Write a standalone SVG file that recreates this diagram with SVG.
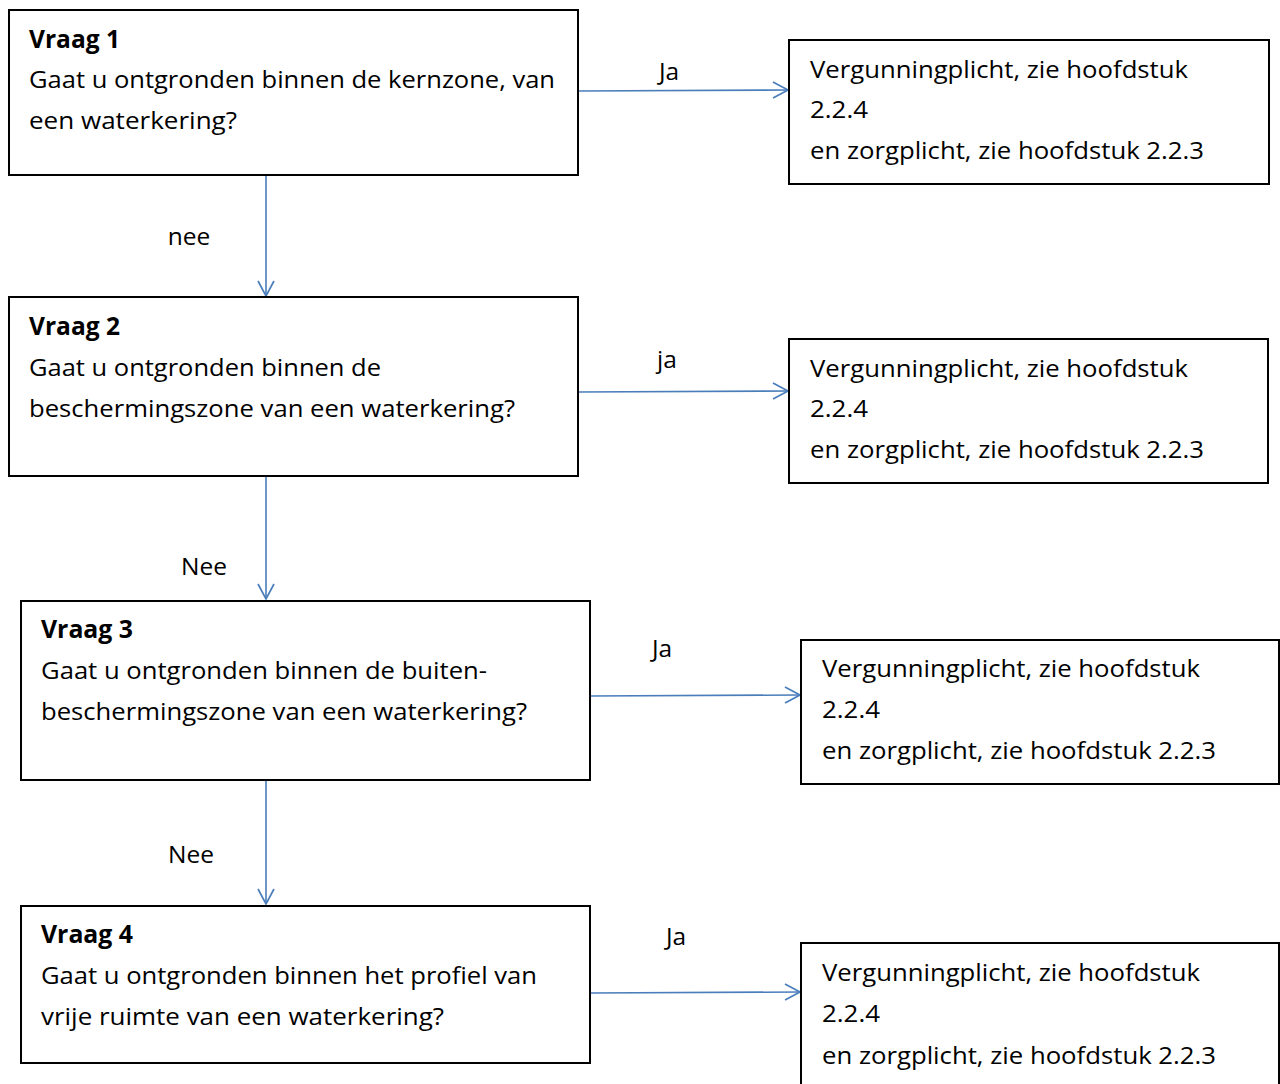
<svg xmlns="http://www.w3.org/2000/svg" width="1280" height="1084" viewBox="0 0 1280 1084">
<defs>
<style>
.box{fill:#fff;stroke:#000;stroke-width:2}
text{font-family:"Open Sans","Liberation Sans",sans-serif;font-size:24.5px;fill:#000}
.b{font-weight:bold}
.lbl{text-anchor:middle}
.con{stroke:#4A7EBB;stroke-width:1.6;fill:none}
</style>
<marker id="ah" markerWidth="20" markerHeight="20" refX="16" refY="9" orient="auto" markerUnits="userSpaceOnUse">
<path d="M1,1 L16,9 L1,17" fill="none" stroke="#4A7EBB" stroke-width="1.7"/>
</marker>
</defs>
<rect width="1280" height="1084" fill="#fff"/>
<g id="connectors">
<line class="con" x1="578" y1="91" x2="788" y2="90" marker-end="url(#ah)"/>
<line class="con" x1="578" y1="392" x2="788" y2="391" marker-end="url(#ah)"/>
<line class="con" x1="590" y1="696" x2="800" y2="695" marker-end="url(#ah)"/>
<line class="con" x1="590" y1="993" x2="800" y2="992" marker-end="url(#ah)"/>
<line class="con" x1="266" y1="175" x2="266" y2="296" marker-end="url(#ah)"/>
<line class="con" x1="266" y1="477" x2="266" y2="599" marker-end="url(#ah)"/>
<line class="con" x1="266" y1="781" x2="266" y2="904" marker-end="url(#ah)"/>
<text class="lbl" x="669" y="80">Ja</text>
<text class="lbl" x="667" y="368">ja</text>
<text class="lbl" x="662" y="657">Ja</text>
<text class="lbl" x="676" y="945">Ja</text>
<text class="lbl" x="189" y="245">nee</text>
<text class="lbl" x="204" y="575">Nee</text>
<text class="lbl" x="191" y="863">Nee</text>
</g>
<g id="q1">
<rect class="box" x="9" y="10" width="569" height="165"/>
<text class="b" x="29" y="48" textLength="91" lengthAdjust="spacingAndGlyphs">Vraag 1</text>
<text x="29" y="88" textLength="526" lengthAdjust="spacingAndGlyphs">Gaat u ontgronden binnen de kernzone, van</text>
<text x="29" y="129" textLength="208" lengthAdjust="spacingAndGlyphs">een waterkering?</text>
</g>
<g id="r1">
<rect class="box" x="789" y="40" width="480" height="144"/>
<text x="810" y="78" textLength="378" lengthAdjust="spacingAndGlyphs">Vergunningplicht, zie hoofdstuk</text>
<text x="810" y="118" textLength="58" lengthAdjust="spacingAndGlyphs">2.2.4</text>
<text x="810" y="159" textLength="394" lengthAdjust="spacingAndGlyphs">en zorgplicht, zie hoofdstuk 2.2.3</text>
</g>
<g id="q2">
<rect class="box" x="9" y="297" width="569" height="179"/>
<text class="b" x="29" y="335" textLength="91" lengthAdjust="spacingAndGlyphs">Vraag 2</text>
<text x="29" y="376" textLength="352" lengthAdjust="spacingAndGlyphs">Gaat u ontgronden binnen de</text>
<text x="29" y="417" textLength="486" lengthAdjust="spacingAndGlyphs">beschermingszone van een waterkering?</text>
</g>
<g id="r2">
<rect class="box" x="789" y="339" width="479" height="144"/>
<text x="810" y="377" textLength="378" lengthAdjust="spacingAndGlyphs">Vergunningplicht, zie hoofdstuk</text>
<text x="810" y="417" textLength="58" lengthAdjust="spacingAndGlyphs">2.2.4</text>
<text x="810" y="458" textLength="394" lengthAdjust="spacingAndGlyphs">en zorgplicht, zie hoofdstuk 2.2.3</text>
</g>
<g id="q3">
<rect class="box" x="21" y="601" width="569" height="179"/>
<text class="b" x="41" y="638" textLength="92" lengthAdjust="spacingAndGlyphs">Vraag 3</text>
<text x="41" y="679" textLength="446" lengthAdjust="spacingAndGlyphs">Gaat u ontgronden binnen de buiten-</text>
<text x="41" y="720" textLength="486" lengthAdjust="spacingAndGlyphs">beschermingszone van een waterkering?</text>
</g>
<g id="r3">
<rect class="box" x="801" y="640" width="478" height="144"/>
<text x="822" y="677" textLength="378" lengthAdjust="spacingAndGlyphs">Vergunningplicht, zie hoofdstuk</text>
<text x="822" y="718" textLength="58" lengthAdjust="spacingAndGlyphs">2.2.4</text>
<text x="822" y="759" textLength="394" lengthAdjust="spacingAndGlyphs">en zorgplicht, zie hoofdstuk 2.2.3</text>
</g>
<g id="q4">
<rect class="box" x="21" y="906" width="569" height="157"/>
<text class="b" x="41" y="943" textLength="92" lengthAdjust="spacingAndGlyphs">Vraag 4</text>
<text x="41" y="984" textLength="496" lengthAdjust="spacingAndGlyphs">Gaat u ontgronden binnen het profiel van</text>
<text x="41" y="1025" textLength="403" lengthAdjust="spacingAndGlyphs">vrije ruimte van een waterkering?</text>
</g>
<g id="r4">
<rect class="box" x="801" y="943" width="478" height="160"/>
<text x="822" y="981" textLength="378" lengthAdjust="spacingAndGlyphs">Vergunningplicht, zie hoofdstuk</text>
<text x="822" y="1022" textLength="58" lengthAdjust="spacingAndGlyphs">2.2.4</text>
<text x="822" y="1064" textLength="394" lengthAdjust="spacingAndGlyphs">en zorgplicht, zie hoofdstuk 2.2.3</text>
</g>
</svg>
